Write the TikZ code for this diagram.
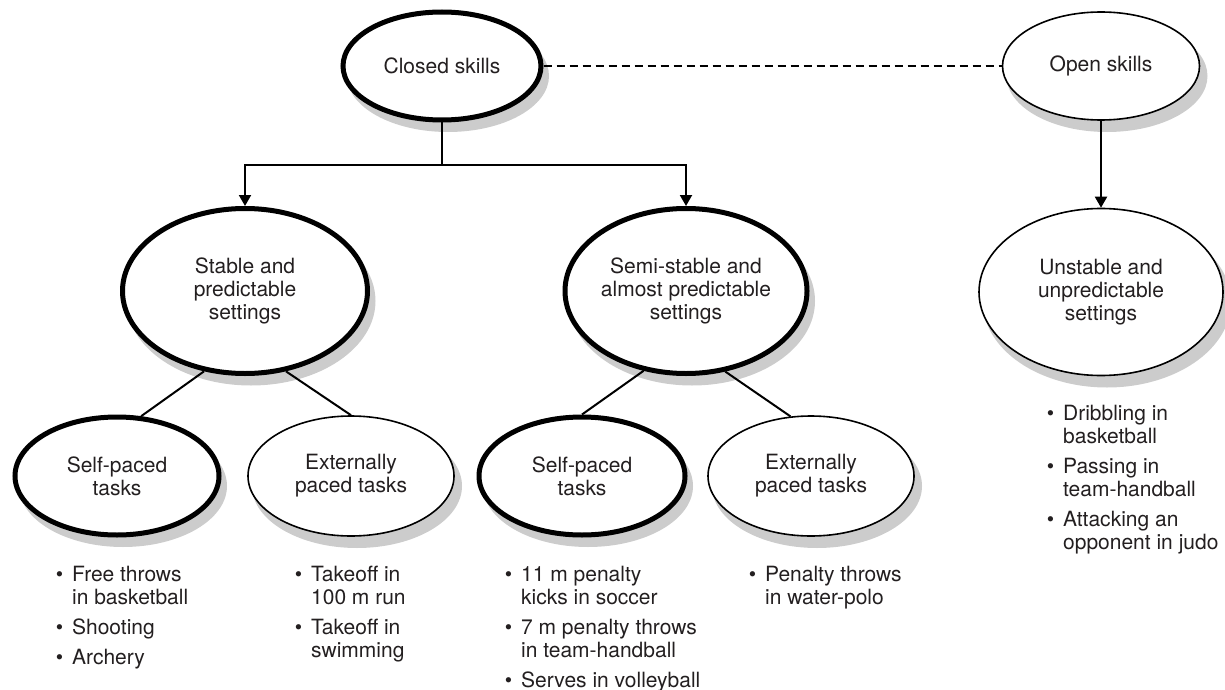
\documentclass[tikz,border=0pt]{standalone}
\usepackage{fontspec}
\setmainfont{TeX Gyre Heros}
\usetikzlibrary{shapes.geometric, arrows.meta}

\definecolor{textcol}{HTML}{231F20}
\definecolor{shadowgray}{RGB}{204,204,204}

% an elliptic skill node with its grey drop shadow:
% #1 style, #2 name, #3 x, #4 y, #5 width, #6 height, #7 text
\newcommand{\skillnode}[7]{%
  \node[shadowshape, minimum width=#5pt+4pt, minimum height=#6pt+4pt] (#2-shadow) at (#3+6,#4+10) {};
  \node[#1, minimum width=#5pt, minimum height=#6pt] (#2) at (#3,#4) {#7};}

\begin{document}
\begin{tikzpicture}[x=1pt, y=-1pt,
  every node/.style={font=\fontsize{21}{23}\selectfont, text=textcol},
  shadowshape/.style={ellipse, draw=none, fill=shadowgray, inner sep=0pt},
  skill/.style={ellipse, draw=black, fill=white, inner sep=0pt, align=center},
  boldskill/.style={skill, line width=5pt},
  lightskill/.style={skill, line width=1.6pt},
  link/.style={draw=black, line width=2pt},
  arr/.style={link, -{Triangle[width=12pt, length=11pt]}},
  examples/.style={inner sep=0pt, anchor=base west},
]
\useasboundingbox (0,0) rectangle (1225,690);

% top level
\skillnode{boldskill}{closed}{442}{66}{198}{108}{Closed skills}
\skillnode{lightskill}{open}{1101}{66}{197}{108}{Open skills}

% settings
\skillnode{boldskill}{stable}{245}{291}{245}{165}{Stable and\\predictable\\settings}
\skillnode{boldskill}{semi}{686}{291}{242}{165}{Semi-stable and\\almost predictable\\settings}
\skillnode{lightskill}{unstable}{1101}{292}{244}{167}{Unstable and\\unpredictable\\settings}

% task types
\skillnode{boldskill}{selfA}{117}{476}{204}{118}{Self-paced\\tasks}
\skillnode{lightskill}{extA}{351}{476}{206}{120}{Externally\\paced tasks}
\skillnode{boldskill}{selfB}{582}{476}{206}{118}{Self-paced\\tasks}
\skillnode{lightskill}{extB}{811}{476}{206}{120}{Externally\\paced tasks}

% connectors
\coordinate (fork) at (442,165);
\draw[link] (closed.south) -- (fork);
\draw[arr] (fork) -| (stable.north);
\draw[arr] (fork) -| (semi.north);
\draw[link, dash pattern=on 8pt off 5pt] (closed.east) -- (open.west);
\draw[arr] (open.south) -- (unstable.north);

\draw[link] (stable.243) -- (selfA.68);
\draw[link] (stable.297) -- (extA.north);
\draw[link] (semi.242) -- (selfB.north);
\draw[link] (semi.296) -- (extB.109);

% examples
\node[examples] (exA) at (55.6,581) {\begin{tabular}[t]{@{}l@{\hspace{9pt}}l@{}}
  \textbullet & Free throws\\ & in basketball\\[7pt]
  \textbullet & Shooting\\[7pt]
  \textbullet & Archery
\end{tabular}};
\node[examples] (exB) at (294.6,581) {\begin{tabular}[t]{@{}l@{\hspace{9pt}}l@{}}
  \textbullet & Takeoff in\\ & 100 m run\\[7pt]
  \textbullet & Takeoff in\\ & swimming
\end{tabular}};
\node[examples] (exC) at (504.6,581) {\begin{tabular}[t]{@{}l@{\hspace{9pt}}l@{}}
  \textbullet & 11 m penalty\\ & kicks in soccer\\[7pt]
  \textbullet & 7 m penalty throws\\ & in team-handball\\[7pt]
  \textbullet & Serves in volleyball
\end{tabular}};
\node[examples] (exD) at (748.6,581) {\begin{tabular}[t]{@{}l@{\hspace{9pt}}l@{}}
  \textbullet & Penalty throws\\ & in water-polo
\end{tabular}};
\node[examples] (exE) at (1046.6,420) {\begin{tabular}[t]{@{}l@{\hspace{9pt}}l@{}}
  \textbullet & Dribbling in\\ & basketball\\[7pt]
  \textbullet & Passing in\\ & team-handball\\[7pt]
  \textbullet & Attacking an\\ & opponent in judo
\end{tabular}};
\end{tikzpicture}
\end{document}
